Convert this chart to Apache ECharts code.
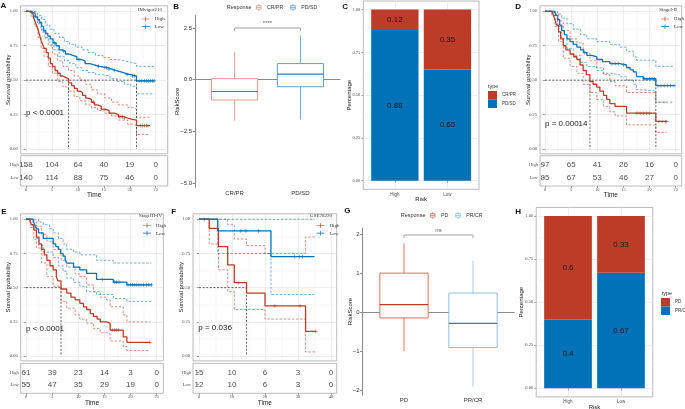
<!DOCTYPE html>
<html>
<head>
<meta charset="utf-8">
<script src="https://cdn.jsdelivr.net/npm/echarts@6.0.0/dist/echarts.min.js"></script>
<style>
html,body{margin:0;padding:0;background:#fff;}
#chart{width:685px;height:409px;}
</style>
</head>
<body>
<div id="chart"></div>
<script>
// ================= DATA =================
const survTicks = [0, 0.25, 0.5, 0.75, 1];
const riskGroups = ['High', 'Low'];

// ---- A : IMvigor210 ----
const A_title = 'IMvigor210';
const A_pval = 'p < 0.0001';
const A_timeTicks = [0, 5, 10, 15, 20, 25];
const A_high = [[0,1],[0.6,0.99],[1.0,0.98],[1.4,0.96],[1.7,0.93],[2.0,0.90],[2.3,0.87],[2.6,0.83],[2.9,0.79],[3.2,0.76],[3.5,0.73],[3.9,0.70],[4.3,0.66],[4.7,0.62],[5.1,0.60],[5.6,0.57],[6.1,0.55],[6.6,0.53],[7.1,0.52],[7.6,0.51],[8.2,0.48],[8.8,0.46],[9.3,0.44],[9.9,0.42],[10.4,0.41],[10.9,0.39],[11.5,0.37],[12.0,0.36],[12.6,0.34],[13.2,0.32],[13.8,0.31],[14.5,0.29],[15.2,0.28],[16.0,0.26],[17.0,0.25],[17.8,0.235],[18.8,0.225],[19.6,0.215],[20.5,0.21],[21.3,0.17],[23.9,0.17]];
const A_low = [[0,1],[0.8,0.99],[1.4,0.98],[1.8,0.96],[2.2,0.94],[2.6,0.92],[3.0,0.89],[3.4,0.86],[3.8,0.84],[4.2,0.82],[4.7,0.80],[5.2,0.77],[5.8,0.75],[6.4,0.72],[7.0,0.71],[7.6,0.69],[8.3,0.68],[9.0,0.67],[9.8,0.65],[10.6,0.64],[11.4,0.62],[12.3,0.61],[13.2,0.60],[14.2,0.595],[15.0,0.59],[15.8,0.58],[16.6,0.57],[17.4,0.56],[18.3,0.55],[19.2,0.54],[20.2,0.53],[21.3,0.495],[24.7,0.495]];
const A_highUpper = [[0,1],[1.0,0.995],[1.7,0.96],[2.3,0.93],[2.9,0.87],[3.5,0.81],[4.3,0.75],[5.1,0.69],[6.1,0.64],[7.1,0.60],[8.2,0.57],[9.3,0.53],[10.4,0.50],[11.5,0.47],[12.6,0.43],[13.8,0.40],[15.2,0.37],[16.5,0.34],[17.8,0.32],[19.6,0.30],[20.5,0.29],[21.3,0.23],[23.9,0.23]];
const A_highLower = [[0,1],[1.0,0.96],[1.7,0.89],[2.3,0.81],[2.9,0.73],[3.5,0.67],[4.3,0.60],[5.1,0.55],[6.1,0.49],[7.1,0.45],[8.2,0.42],[9.3,0.38],[10.4,0.35],[11.5,0.32],[12.6,0.30],[13.8,0.28],[15.2,0.26],[16.5,0.24],[17.8,0.21],[19.6,0.18],[20.5,0.17],[21.3,0.105],[23.9,0.105]];
const A_lowUpper = [[0,1],[1.4,0.995],[2.2,0.97],[3.0,0.94],[3.8,0.90],[4.6,0.87],[5.4,0.84],[6.4,0.81],[7.4,0.78],[8.4,0.76],[9.6,0.74],[10.8,0.72],[12.0,0.70],[13.4,0.68],[14.8,0.665],[16.2,0.65],[17.6,0.64],[19.0,0.63],[20.2,0.62],[21.3,0.60],[24.7,0.585]];
const A_lowLower = [[0,1],[1.4,0.96],[2.2,0.91],[3.0,0.85],[3.8,0.80],[4.6,0.76],[5.4,0.72],[6.4,0.67],[7.4,0.64],[8.4,0.62],[9.6,0.59],[10.8,0.57],[12.0,0.555],[13.4,0.54],[14.8,0.53],[16.2,0.51],[17.6,0.49],[19.0,0.47],[20.2,0.455],[21.3,0.40],[24.7,0.40]];
const A_highCensor = [13.0,18.0,18.3,18.6,19.0,22.0,22.4,22.8,23.2,23.5];
const A_lowCensor = [5.5,7.2,10.2,14.0,15.2,15.5,16.0,17.0,19.5,20.5,20.9,21.8,22.3,22.8,23.2,23.6,24.0,24.4,24.7];
const A_medians = [8.2, 21.3];
const A_riskHigh = [158,104,64,40,19,0];
const A_riskLow = [140,114,88,75,46,0];

// ---- D : StageI-II ----
const D_title = 'StageI-II';
const D_pval = 'p = 0.00014';
const D_timeTicks = [0, 5, 10, 15, 20, 25];
const D_high = [[0,1],[1.3,0.99],[1.6,0.97],[1.9,0.94],[2.2,0.90],[2.6,0.85],[3.0,0.80],[3.5,0.75],[4.0,0.72],[4.8,0.69],[5.5,0.67],[6.1,0.65],[6.7,0.61],[7.3,0.57],[7.9,0.54],[8.6,0.49],[9.2,0.47],[9.9,0.45],[10.5,0.42],[11.2,0.39],[11.8,0.36],[12.4,0.33],[13.4,0.31],[15.6,0.26],[21.2,0.20],[23.3,0.20]];
const D_low = [[0,1],[1.6,0.99],[2.0,0.97],[2.4,0.94],[2.8,0.90],[3.2,0.86],[3.7,0.83],[4.2,0.80],[4.8,0.78],[5.4,0.76],[6.1,0.74],[6.8,0.72],[7.4,0.70],[8.0,0.68],[8.8,0.67],[9.9,0.65],[11.0,0.635],[12.4,0.62],[14.3,0.61],[15.6,0.59],[16.3,0.575],[16.9,0.56],[17.5,0.525],[18.8,0.51],[21.2,0.46],[24.7,0.46]];
const D_highUpper = [[0,1],[1.3,1.0],[1.9,0.98],[2.6,0.93],[3.5,0.86],[4.8,0.80],[6.1,0.77],[7.3,0.70],[8.6,0.64],[9.9,0.59],[11.2,0.54],[12.4,0.49],[13.4,0.46],[15.6,0.41],[21.2,0.34],[23.3,0.34]];
const D_highLower = [[0,1],[1.3,0.97],[1.9,0.89],[2.6,0.78],[3.5,0.66],[4.8,0.60],[6.1,0.55],[7.3,0.47],[8.6,0.41],[9.9,0.36],[11.2,0.31],[12.4,0.27],[13.4,0.24],[15.6,0.175],[21.2,0.12],[23.3,0.12]];
const D_lowUpper = [[0,1],[1.6,1.0],[2.4,0.98],[3.2,0.95],[4.2,0.91],[5.4,0.87],[6.8,0.83],[8.0,0.80],[9.9,0.78],[12.4,0.76],[14.3,0.74],[15.6,0.71],[16.9,0.67],[17.5,0.645],[21.2,0.60],[24.7,0.60]];
const D_lowLower = [[0,1],[1.6,0.97],[2.4,0.89],[3.2,0.80],[4.2,0.73],[5.4,0.68],[6.8,0.63],[8.0,0.60],[9.9,0.57],[11.0,0.55],[12.4,0.54],[14.3,0.525],[15.6,0.50],[16.9,0.47],[17.5,0.43],[18.8,0.42],[21.2,0.34],[24.7,0.34]];
const D_highCensor = [17.6,18.2,18.8,19.4,20.0,21.8,22.4,23.0,23.3];
const D_lowCensor = [7.6,12.8,13.4,14.0,15.0,19.0,19.5,20.0,20.5,20.9,21.6,22.2,22.8,23.4,24.0,24.7];
const D_medians = [8.6, 21.2];
const D_riskHigh = [97,65,41,26,16,0];
const D_riskLow = [85,67,53,46,27,0];

// ---- E : StageIII-IV ----
const E_title = 'StageIII-IV';
const E_pval = 'p < 0.0001';
const E_timeTicks = [0, 5, 10, 15, 20, 25];
const E_high = [[0,1],[0.8,0.98],[1.1,0.96],[1.5,0.92],[2.0,0.87],[2.5,0.82],[3.0,0.78],[3.5,0.74],[4.0,0.70],[4.6,0.66],[5.2,0.63],[5.8,0.58],[6.1,0.55],[6.7,0.49],[7.8,0.46],[8.6,0.43],[9.4,0.41],[10.3,0.385],[11.0,0.36],[11.6,0.34],[12.3,0.31],[12.9,0.29],[13.6,0.27],[14.2,0.25],[15.4,0.24],[16.1,0.19],[18.6,0.14],[19.3,0.10],[23.7,0.10]];
const E_low = [[0,1],[1.4,0.98],[1.7,0.96],[2.0,0.93],[2.4,0.90],[3.3,0.86],[5.2,0.82],[5.7,0.80],[6.2,0.78],[6.6,0.75],[7.1,0.73],[7.5,0.70],[7.8,0.68],[9.1,0.65],[10.3,0.63],[11.6,0.605],[13.5,0.56],[16.7,0.54],[19.3,0.52],[24.0,0.52]];
const E_highUpper = [[0,1],[0.8,1.0],[1.5,0.98],[2.0,0.95],[3.0,0.89],[4.0,0.84],[5.2,0.78],[6.7,0.70],[7.8,0.65],[9.4,0.60],[10.3,0.58],[11.6,0.52],[12.9,0.47],[14.2,0.43],[15.4,0.41],[16.1,0.36],[18.6,0.30],[19.3,0.25],[23.7,0.25]];
const E_highLower = [[0,1],[0.8,0.94],[1.5,0.85],[2.0,0.79],[3.0,0.68],[4.0,0.58],[5.2,0.51],[6.7,0.40],[7.8,0.35],[9.4,0.30],[10.3,0.27],[11.6,0.24],[12.9,0.20],[14.2,0.17],[15.4,0.16],[16.1,0.11],[18.6,0.07],[19.3,0.04],[23.7,0.04]];
const E_lowUpper = [[0,1],[1.7,1.0],[2.4,0.98],[3.3,0.96],[4.5,0.93],[5.2,0.90],[6.2,0.86],[7.1,0.82],[7.8,0.78],[9.1,0.76],[10.3,0.74],[13.5,0.70],[16.7,0.68],[24.0,0.68]];
const E_lowLower = [[0,1],[1.4,0.94],[2.0,0.86],[2.4,0.81],[3.3,0.76],[5.2,0.72],[6.2,0.66],[7.1,0.62],[7.8,0.57],[9.1,0.54],[10.3,0.51],[11.6,0.47],[13.5,0.45],[16.7,0.42],[19.3,0.40],[24.0,0.40]];
const E_highCensor = [16.5,16.9,17.3,17.7,23.7];
const E_lowCensor = [14.6,16.9,17.3,17.8,19.5,20.0,20.4,20.8,21.2,21.6,22.0,22.5,23.0,23.5,24.0];
const E_medians = [6.7];
const E_riskHigh = [61,39,23,14,3,0];
const E_riskLow = [55,47,35,29,19,0];

// ---- F : GSE78220 ----
const F_title = 'GSE78220';
const F_pval = 'p = 0.036';
const F_timeTicks = [0, 10, 20, 30, 40];
const F_high = [[0,1],[3.1,0.934],[5.9,0.80],[8.7,0.666],[10.7,0.536],[14.4,0.46],[20.0,0.366],[32.3,0.18],[35.4,0.18]];
const F_low = [[0,1],[5.7,0.915],[21.8,0.727],[35.0,0.727]];
const F_highUpper = [[0,1],[8.7,0.96],[10.7,0.856],[14.4,0.807],[20.0,0.75],[32.3,0.87],[35.4,0.87]];
const F_highLower = [[0,1],[3.1,0.82],[5.9,0.63],[8.7,0.47],[10.7,0.34],[20.0,0.27],[32.3,0.03],[35.4,0.03]];
const F_lowUpper = [[0,1],[35.0,1]];
const F_lowLower = [[0,1],[5.7,0.75],[21.8,0.45],[35.0,0.45]];
const F_highCensor = [11.9,23.0,30.6,35.4];
const F_lowCensor = [1.6,12.7,14.2,18.0,29.0,30.4,31.4];
const F_medians = [14.4];
const F_riskHigh = [15,10,6,3,0];
const F_riskLow = [12,10,6,3,0];

// ---- B : boxplot (Response) ----
const B_groups = ['CR/PR', 'PD/SD'];
const B_CRPR = [-1.98, -0.98, -0.57, 0.05, 1.33];   // min, Q1, median, Q3, max
const B_PDSD = [-1.93, -0.34, 0.27, 0.78, 2.14];
const B_yTicks = [-5, -2.5, 0, 2.5];
const B_sig = '****';

// ---- C : stacked percentage ----
const C_risk = ['High', 'Low'];
const C_PDSD = [0.88, 0.65];
const C_CRPR = [0.12, 0.35];

// ---- G : boxplot (Response) ----
const G_groups = ['PD', 'PR/CR'];
const G_PD = [-1.0, -0.15, 0.19, 1.0, 1.77];
const G_PRCR = [-1.91, -0.91, -0.29, 0.49, 1.32];
const G_yTicks = [-2, -1, 0, 1, 2];
const G_sig = 'ns';

// ---- H : stacked percentage ----
const H_risk = ['High', 'Low'];
const H_PRCR = [0.4, 0.67];
const H_PD = [0.6, 0.33];

// ================= STYLE / BUILD =================
const RED = '#BC3C29', BLUE = '#0072B5';
const SANS = "'Liberation Sans', Arial, sans-serif";
const SERIF = "'Liberation Serif', 'Times New Roman', serif";
const MAJ = '#e3e3e3', MINC = '#f1f1f1', BORDER = '#a9a9a9';
const PLUS = 'path://M4,0H6V10H4Z M0,4H10V6H0Z';
const KM_ICON = 'path://M0,4.3H16V5.7H0Z M7.3,0.5H8.7V9.5H7.3Z';
const BOX_ICON = 'path://M1,3H9V9H1Z M1,6H9 M5,0V3 M5,9V12';

const grid = [], xAxis = [], yAxis = [], series = [], legend = [], graphic = [];

function mids(t) { const r = []; for (let i = 0; i < t.length - 1; i++) r.push((t[i] + t[i + 1]) / 2); return r; }
function stepAt(curve, t) { let v = curve[0][1]; for (const p of curve) { if (p[0] <= t) v = p[1]; else break; } return v; }
function fmtMinus(v, d) { const s = Math.abs(v).toFixed(d); return v < 0 ? '\u2212' + s : s; }
function txt(text, x, y, o) {
  graphic.push({type: 'text', x: x, y: y, silent: true, z: 100,
    style: Object.assign({text: text, fontSize: 6, fontFamily: SANS, fill: '#1a1a1a', align: 'left', verticalAlign: 'middle'}, o || {})});
}
function addGrid(b, border) {
  const g = {left: b[0], top: b[1], width: b[2], height: b[3], containLabel: false, outerBoundsMode: 'none'};
  if (border) Object.assign(g, {show: true, borderColor: BORDER, borderWidth: 0.8, backgroundColor: '#fff'});
  grid.push(g);
  return grid.length - 1;
}
function valAxis(g, r, ticks, o) {
  return {
    gridIndex: g, type: 'value', min: r[0], max: r[1], silent: true, nameMoveOverlap: false,
    axisLine: {show: !!o.line, lineStyle: {color: o.line || '#000', width: o.lineW || 1}},
    axisTick: {show: !!o.tick, customValues: ticks, length: o.tickLen || 2, lineStyle: {color: o.tickC || '#555', width: o.tickW || 0.5}},
    axisLabel: {show: !!o.label, customValues: ticks, formatter: o.fmt, fontSize: o.fs || 4.5, fontFamily: o.ff || SERIF, color: o.lc || '#4d4d4d', margin: o.margin == null ? 3 : o.margin},
    splitLine: {show: !!o.split, lineStyle: {color: o.split || MAJ, width: o.splitW || 0.6}},
    minorTick: {show: false}, minorSplitLine: {show: false},
    name: o.name || '', nameLocation: 'middle', nameGap: o.nameGap || 10,
    nameTextStyle: {fontSize: o.nfs || 6, fontFamily: SANS, color: '#1a1a1a'}
  };
}

function kmPanel(c) {
  const g = addGrid(c.box, true);
  const xi = xAxis.length, yi = yAxis.length;
  xAxis.push(valAxis(g, c.xr, c.xt, {split: MAJ, splitW: 0.6}));
  xAxis.push(valAxis(g, c.xr, mids(c.xt), {split: MINC, splitW: 0.4}));
  yAxis.push(valAxis(g, c.yr, survTicks, {label: true, tick: true, split: MAJ, splitW: 0.6, fmt: v => v.toFixed(2),
    name: 'Survival probability', nameGap: 9, nfs: 6}));
  yAxis.push(valAxis(g, c.yr, mids(survTicks), {split: MINC, splitW: 0.4}));
  const base = {xAxisIndex: xi, yAxisIndex: yi, silent: true, animation: false};
  const ci = (data, color) => Object.assign({type: 'line', data: data, step: 'end', symbol: 'none', z: 3,
    lineStyle: {color: color, width: 0.8, type: [2.5, 1.6], opacity: 0.7}, itemStyle: {color: color}}, base);
  series.push(ci(c.hu, RED), ci(c.hl, RED), ci(c.lu, BLUE), ci(c.ll, BLUE));
  const mx = Math.max.apply(null, c.med);
  const medStyle = {color: '#222', width: 0.7, type: [2, 1.6]};
  series.push(Object.assign({type: 'line', data: [[0, 0.5], [mx, 0.5]], symbol: 'none', z: 4, lineStyle: medStyle}, base));
  c.med.forEach(m => series.push(Object.assign({type: 'line', data: [[m, 0.5], [m, 0]], symbol: 'none', z: 4, lineStyle: medStyle}, base)));
  series.push(Object.assign({type: 'line', name: 'High', data: c.high, step: 'end', symbol: 'none', z: 5,
    lineStyle: {color: RED, width: 1.3}, itemStyle: {color: RED}}, base));
  series.push(Object.assign({type: 'line', name: 'Low', data: c.low, step: 'end', symbol: 'none', z: 5,
    lineStyle: {color: BLUE, width: 1.3}, itemStyle: {color: BLUE}}, base));
  series.push(Object.assign({type: 'scatter', data: c.hc.map(t => [t, stepAt(c.high, t)]), symbol: PLUS, symbolSize: 3.6, z: 6, itemStyle: {color: RED}}, base));
  series.push(Object.assign({type: 'scatter', data: c.lc.map(t => [t, stepAt(c.low, t)]), symbol: PLUS, symbolSize: 3.6, z: 6, itemStyle: {color: BLUE}}, base));

  // risk table
  const gr = addGrid(c.tbox, true);
  const rxi = xAxis.length, ryi = yAxis.length;
  xAxis.push(valAxis(gr, c.xr, c.xt, {label: true, tick: true, margin: 1.5, name: 'Time', nameGap: 6, nfs: 6.5}));
  yAxis.push(valAxis(gr, [0.3, 2.75], [1, 2], {label: true, tick: true, fmt: v => riskGroups[2 - Math.round(v)], margin: 2}));
  const rows = c.xt.map((t, i) => [t, 2, c.rh[i]]).concat(c.xt.map((t, i) => [t, 1, c.rl[i]]));
  series.push({type: 'scatter', xAxisIndex: rxi, yAxisIndex: ryi, silent: true, animation: false, data: rows, symbolSize: 1,
    itemStyle: {color: 'rgba(0,0,0,0)'},
    label: {show: true, position: 'inside', formatter: p => String(p.data[2]), fontSize: 8, fontFamily: SANS, color: '#1a1a1a'}});

  legend.push({show: true, orient: 'vertical', left: c.lg[0], top: c.lg[1], padding: 0, itemWidth: 8, itemHeight: 5, itemGap: 2.7,
    selectedMode: false, textStyle: {fontSize: 5, fontFamily: SERIF, color: '#333', lineHeight: 5},
    data: [{name: 'High', icon: KM_ICON, itemStyle: {color: RED, borderWidth: 0}}, {name: 'Low', icon: KM_ICON, itemStyle: {color: BLUE, borderWidth: 0}}]});
  txt(c.title, c.tt[0], c.tt[1], {fontSize: 5, fontFamily: SERIF, align: 'right', fill: '#333'});
  txt(c.p, c.pp[0], c.pp[1], {fontSize: 8});
}

function boxRender(col) {
  return function (params, api) {
    const x = api.value(0);
    const lo = api.coord([x, api.value(1)]), q1 = api.coord([x, api.value(2)]), md = api.coord([x, api.value(3)]),
      q3 = api.coord([x, api.value(4)]), hi = api.coord([x, api.value(5)]);
    const hw = api.size([0.7, 0])[0] / 2;
    return {type: 'group', children: [
      {type: 'line', shape: {x1: hi[0], y1: hi[1], x2: q3[0], y2: q3[1]}, style: {stroke: col.wh, lineWidth: 1}},
      {type: 'line', shape: {x1: q1[0], y1: q1[1], x2: lo[0], y2: lo[1]}, style: {stroke: col.wh, lineWidth: 1}},
      {type: 'rect', shape: {x: q3[0] - hw, y: q3[1], width: 2 * hw, height: q1[1] - q3[1]}, style: {fill: '#fff', stroke: col.edge, lineWidth: 1}},
      {type: 'line', shape: {x1: md[0] - hw, y1: md[1], x2: md[0] + hw, y2: md[1]}, style: {stroke: col.med, lineWidth: 1.2}}
    ]};
  };
}

function boxPanel(c) {
  const g = addGrid(c.box, false);
  const xi = xAxis.length, yi = yAxis.length;
  xAxis.push(valAxis(g, [0.4, 2.6], [1, 2], {line: '#8c8c8c', lineW: 1.1, tick: true, tickC: '#8c8c8c', tickW: 1, tickLen: 2.5,
    label: true, fs: 6, ff: SANS, lc: '#333', margin: c.xm, fmt: v => c.groups[Math.round(v) - 1]}));
  yAxis.push(valAxis(g, c.yr, c.yt, {line: '#8c8c8c', lineW: 1.1, tick: true, tickC: '#8c8c8c', tickW: 1, tickLen: 2.5,
    label: true, fs: 6, ff: SANS, lc: '#333', margin: 3, fmt: c.fmt, name: 'RiskScore', nameGap: c.ng, nfs: 6}));
  c.stats.forEach((s, i) => {
    series.push({type: 'custom', name: c.groups[i], xAxisIndex: xi, yAxisIndex: yi, silent: true, animation: false,
      data: [[i + 1].concat(s)], encode: {x: 0, y: [1, 2, 3, 4, 5]}, renderItem: boxRender(c.cols[i]),
      itemStyle: {color: c.cols[i].edge}});
  });
  series.push({type: 'line', xAxisIndex: xi, yAxisIndex: yi, silent: true, animation: false, symbol: 'none',
    data: [[1, c.sig.y - c.sig.drop], [1, c.sig.y], [2, c.sig.y], [2, c.sig.y - c.sig.drop]], lineStyle: {color: '#8c8c8c', width: 0.8}});
  series.push({type: 'scatter', xAxisIndex: xi, yAxisIndex: yi, silent: true, animation: false, symbolSize: 1,
    data: [[1.5, c.sig.y]], itemStyle: {color: 'rgba(0,0,0,0)'},
    label: {show: true, position: 'top', distance: 1, formatter: c.sig.text, fontSize: 6, fontFamily: SANS, color: '#333'}});
  legend.push({show: true, orient: 'horizontal', left: c.lg[0], top: c.lg[1], padding: 0, itemWidth: 6.7, itemHeight: 7, itemGap: 7,
    selectedMode: false, textStyle: {fontSize: 5.2, fontFamily: SANS, color: '#333'},
    data: c.groups.map((n, i) => ({name: n, icon: BOX_ICON, itemStyle: {color: 'rgba(0,0,0,0)', borderColor: c.cols[i].edge, borderWidth: 0.8}}))});
  txt('Response', c.rt[0], c.rt[1], {fontSize: 5.5, fill: '#333'});
}

function barRender(color) {
  return function (params, api) {
    const x = api.value(0);
    const p0 = api.coord([x, api.value(1)]), p1 = api.coord([x, api.value(2)]);
    const hw = api.size([0.9, 0])[0] / 2;
    return {type: 'group', children: [
      {type: 'rect', shape: {x: p0[0] - hw, y: p1[1], width: 2 * hw, height: p0[1] - p1[1]}, style: {fill: color}},
      {type: 'text', x: p0[0], y: (p0[1] + p1[1]) / 2, style: {text: String(api.value(3)), fontSize: 8, fontFamily: SANS,
        fill: '#1a1a1a', align: 'center', verticalAlign: 'middle'}}
    ]};
  };
}

function barPanel(c) {
  const g = addGrid(c.box, true);
  const xi = xAxis.length, yi = yAxis.length;
  xAxis.push(valAxis(g, [0.4, 2.6], [1, 2], {tick: true, label: true, ff: SANS, fs: 4.5, margin: 2.5, split: MAJ,
    fmt: v => c.cats[Math.round(v) - 1], name: 'Risk', nameGap: 7, nfs: 6}));
  yAxis.push(valAxis(g, [-0.05, 1.05], survTicks, {tick: true, label: true, split: MAJ, fmt: v => v.toFixed(2),
    name: 'Percentage', nameGap: c.ng, nfs: 6}));
  yAxis.push(valAxis(g, [-0.05, 1.05], mids(survTicks), {split: MINC, splitW: 0.4}));
  const cum = c.cats.map(() => 0);
  c.layers.forEach(l => {
    const data = c.cats.map((_, i) => { const d = [i + 1, cum[i], cum[i] + l.vals[i], l.vals[i]]; cum[i] += l.vals[i]; return d; });
    series.push({type: 'custom', name: l.name, xAxisIndex: xi, yAxisIndex: yi, silent: true, animation: false,
      data: data, encode: {x: 0, y: [1, 2]}, renderItem: barRender(l.color), itemStyle: {color: l.color}});
  });
  legend.push({show: true, orient: 'vertical', left: c.lg[0], top: c.lg[1], padding: 0, itemWidth: 9, itemHeight: 8.5, itemGap: 0,
    selectedMode: false, textStyle: {fontSize: 4.5, fontFamily: SANS, color: '#333'},
    data: c.layers.slice().reverse().map(l => ({name: l.name, icon: 'rect', itemStyle: {color: l.color, borderWidth: 0}}))});
  txt('type', c.tt[0], c.tt[1], {fontSize: 5.5, fill: '#333'});
}

// ---------- panels ----------
kmPanel({box: [20.7, 5.8, 147, 148], tbox: [20.7, 155.7, 147, 30.3], xr: [-1.02, 27.31], yr: [-0.035, 1.04], xt: A_timeTicks,
  high: A_high, low: A_low, hu: A_highUpper, hl: A_highLower, lu: A_lowUpper, ll: A_lowLower, hc: A_highCensor, lc: A_lowCensor,
  med: A_medians, rh: A_riskHigh, rl: A_riskLow, lg: [141.7, 16.5], title: A_title, tt: [162, 10], p: A_pval, pp: [26, 112.7]});
kmPanel({box: [540, 5.8, 141.7, 148], tbox: [540, 155.7, 141.7, 30.3], xr: [-0.956, 26.15], yr: [-0.035, 1.04], xt: D_timeTicks,
  high: D_high, low: D_low, hu: D_highUpper, hl: D_highLower, lu: D_lowUpper, ll: D_lowLower, hc: D_highCensor, lc: D_lowCensor,
  med: D_medians, rh: D_riskHigh, rl: D_riskLow, lg: [661, 16.5], title: D_title, tt: [677, 10], p: D_pval, pp: [545, 123.3]});
kmPanel({box: [20.7, 213.8, 142.6, 147], tbox: [20.7, 363.3, 142.6, 30], xr: [-1.01, 26.26], yr: [-0.035, 1.04], xt: E_timeTicks,
  high: E_high, low: E_low, hu: E_highUpper, hl: E_highLower, lu: E_lowUpper, ll: E_lowLower, hc: E_highCensor, lc: E_lowCensor,
  med: E_medians, rh: E_riskHigh, rl: E_riskLow, lg: [143, 223], title: E_title, tt: [162, 215.7], p: E_pval, pp: [26, 328.3]});
kmPanel({box: [193, 213.8, 143.7, 147], tbox: [193, 363.3, 143.7, 30], xr: [-1.82, 41.73], yr: [-0.035, 1.04], xt: F_timeTicks,
  high: F_high, low: F_low, hu: F_highUpper, hl: F_highLower, lu: F_lowUpper, ll: F_lowLower, hc: F_highCensor, lc: F_lowCensor,
  med: F_medians, rh: F_riskHigh, rl: F_riskLow, lg: [316.5, 223], title: F_title, tt: [332, 215.7], p: F_pval, pp: [198.3, 327.7]});

boxPanel({box: [195, 15.6, 145, 171.6], yr: [-5.2, 3.1], yt: B_yTicks, fmt: v => fmtMinus(v, 1), groups: B_groups, stats: [B_CRPR, B_PDSD],
  cols: [{edge: '#E39C90', wh: '#E6A59A', med: '#C9503F'}, {edge: '#5F9FD3', wh: '#74ABD9', med: '#2C7BBE'}],
  sig: {y: 2.5, drop: 0.15, text: B_sig}, lg: [256, 3.5], rt: [226.7, 7], xm: 3, ng: 15});
boxPanel({box: [362.6, 228, 151.8, 167], yr: [-2.13, 2.16], yt: G_yTicks, fmt: v => fmtMinus(v, 0), groups: G_groups, stats: [G_PD, G_PRCR],
  cols: [{edge: '#D7725F', wh: '#D97A68', med: '#BC3C29'}, {edge: '#8DC0E3', wh: '#A5CCE8', med: '#2F80C0'}],
  sig: {y: 1.98, drop: 0.08, text: G_sig}, lg: [430, 211.5], rt: [400.7, 215], xm: 2, ng: 9});

barPanel({box: [363.3, 1, 115.7, 188.3], cats: C_risk,
  layers: [{name: 'PD/SD', vals: C_PDSD, color: BLUE}, {name: 'CR/PR', vals: C_CRPR, color: RED}],
  lg: [488, 91], tt: [488, 86], ng: 11});
barPanel({box: [536.2, 207.4, 116.6, 189.5], cats: H_risk,
  layers: [{name: 'PR/CR', vals: H_PRCR, color: BLUE}, {name: 'PD', vals: H_PD, color: RED}],
  lg: [661, 298], tt: [661.7, 293], ng: 11.5});

// panel letters
[['A', 0.5, 6], ['B', 173.3, 6.5], ['C', 342.3, 6.5], ['D', 515.3, 6.5], ['E', 1.3, 211.5], ['F', 171.3, 211.5], ['G', 344.3, 211], ['H', 515.3, 211.5]]
  .forEach(l => txt(l[0], l[1], l[2], {fontSize: 8, fontWeight: 'bold', fill: '#111'}));

const chart = echarts.init(document.getElementById('chart'), null, {renderer: 'canvas'});
chart.setOption({
  animation: false,
  backgroundColor: '#fff',
  grid: grid, xAxis: xAxis, yAxis: yAxis, series: series, legend: legend, graphic: graphic
});
</script>
</body>
</html>
